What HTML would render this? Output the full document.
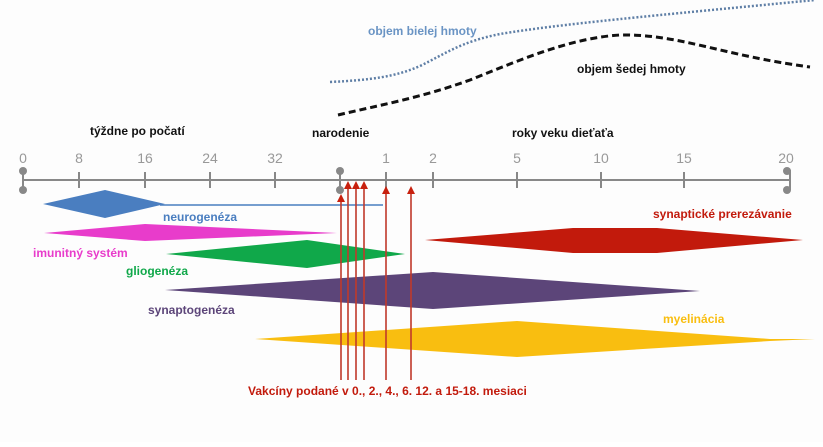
<!DOCTYPE html>
<html><head><meta charset="utf-8"><style>
body{margin:0;background:#fff}
svg text{font-family:"Liberation Sans","DejaVu Sans",sans-serif;font-weight:bold;font-size:12px}
</style></head><body>
<svg width="823" height="442" xmlns="http://www.w3.org/2000/svg">
<rect width="823" height="442" fill="#fdfdfd"/>
<path d="M330,82 C370,80 395,77 420,66 C445,54 460,42 500,34 C560,24 650,16 815,0" fill="none" stroke="#5f7fa6" stroke-width="2.5" stroke-dasharray="2,2"/>
<path d="M338,115 C380,105 420,98 470,80 C520,60 570,38 620,35 C680,34 720,55 810,67" fill="none" stroke="#111" stroke-width="3" stroke-dasharray="7,4"/>
<text x="368" y="35" fill="#6a94c4">objem bielej hmoty</text>
<text x="577" y="73" fill="#111">objem šedej hmoty</text>
<text x="90" y="135" fill="#111">týždne po počatí</text>
<text x="312" y="137" fill="#111">narodenie</text>
<text x="512" y="137" fill="#111">roky veku dieťaťa</text>
<g text-anchor="middle">
<text x="23" y="163" style="font-weight:normal;font-size:14px" fill="#999">0</text>
<text x="79" y="163" style="font-weight:normal;font-size:14px" fill="#999">8</text>
<text x="145" y="163" style="font-weight:normal;font-size:14px" fill="#999">16</text>
<text x="210" y="163" style="font-weight:normal;font-size:14px" fill="#999">24</text>
<text x="275" y="163" style="font-weight:normal;font-size:14px" fill="#999">32</text>
<text x="386" y="163" style="font-weight:normal;font-size:14px" fill="#999">1</text>
<text x="433" y="163" style="font-weight:normal;font-size:14px" fill="#999">2</text>
<text x="517" y="163" style="font-weight:normal;font-size:14px" fill="#999">5</text>
<text x="601" y="163" style="font-weight:normal;font-size:14px" fill="#999">10</text>
<text x="684" y="163" style="font-weight:normal;font-size:14px" fill="#999">15</text>
<text x="786" y="163" style="font-weight:normal;font-size:14px" fill="#999">20</text>
</g>
<line x1="23" y1="180" x2="790" y2="180" stroke="#888" stroke-width="2"/>
<g stroke="#888" stroke-width="2">
<line x1="23" y1="170" x2="23" y2="190"/><line x1="79" y1="172" x2="79" y2="188"/><line x1="145" y1="172" x2="145" y2="188"/><line x1="210" y1="172" x2="210" y2="188"/><line x1="275" y1="172" x2="275" y2="188"/><line x1="340" y1="170" x2="340" y2="190"/><line x1="386" y1="172" x2="386" y2="188"/><line x1="433" y1="172" x2="433" y2="188"/><line x1="517" y1="172" x2="517" y2="188"/><line x1="601" y1="172" x2="601" y2="188"/><line x1="684" y1="172" x2="684" y2="188"/><line x1="790" y1="170" x2="790" y2="190"/>
</g>
<g fill="#888"><circle cx="23" cy="171" r="4"/><circle cx="23" cy="190" r="4"/><circle cx="340" cy="171" r="4"/><circle cx="340" cy="190" r="4"/><circle cx="787" cy="171" r="4"/><circle cx="787" cy="190" r="4"/></g>
<polygon points="43,204 105,190 165,204 105,218" fill="#4a7ec0"/>
<line x1="160" y1="205" x2="383" y2="205" stroke="#4a7ec0" stroke-width="1.5"/>
<polygon points="44,233 145,224 337,233 145,241" fill="#e83ccb"/>
<polygon points="166,254 307,240 405,254 307,268" fill="#10a84a"/>
<polygon points="165,290 433,272 700,291 433,309" fill="#5c4579"/>
<polygon points="255,339 517,321 770,339 815,339 770,341 517,357" fill="#f9be10"/>
<polygon points="425,240 573,228 657,228 803,240 657,253 573,253" fill="#c21a0c"/>
<text x="163" y="221" fill="#4a7ec0">neurogenéza</text>
<text x="33" y="257" fill="#e83ccb">imunitný systém</text>
<text x="126" y="275" fill="#10a84a">gliogenéza</text>
<text x="148" y="314" fill="#5c4579">synaptogenéza</text>
<text x="653" y="218" fill="#c21a0c">synaptické prerezávanie</text>
<text x="663" y="323" fill="#f9be10">myelinácia</text>
<g stroke="#c0392b" stroke-width="1.6">
<line x1="341" y1="380" x2="341" y2="198"/><line x1="348" y1="380" x2="348" y2="185"/><line x1="356" y1="380" x2="356" y2="185"/><line x1="364" y1="380" x2="364" y2="185"/><line x1="386" y1="380" x2="386" y2="190"/><line x1="411" y1="380" x2="411" y2="190"/>
</g>
<g fill="#c8200e">
<polygon points="341,194 337,202 345,202"/><polygon points="348,181 344,189 352,189"/><polygon points="356,181 352,189 360,189"/><polygon points="364,181 360,189 368,189"/><polygon points="386,186 382,194 390,194"/><polygon points="411,186 407,194 415,194"/>
</g>
<text x="248" y="395" fill="#c21a0c">Vakcíny podané v 0., 2., 4., 6. 12. a 15-18. mesiaci</text>
</svg>
</body></html>
